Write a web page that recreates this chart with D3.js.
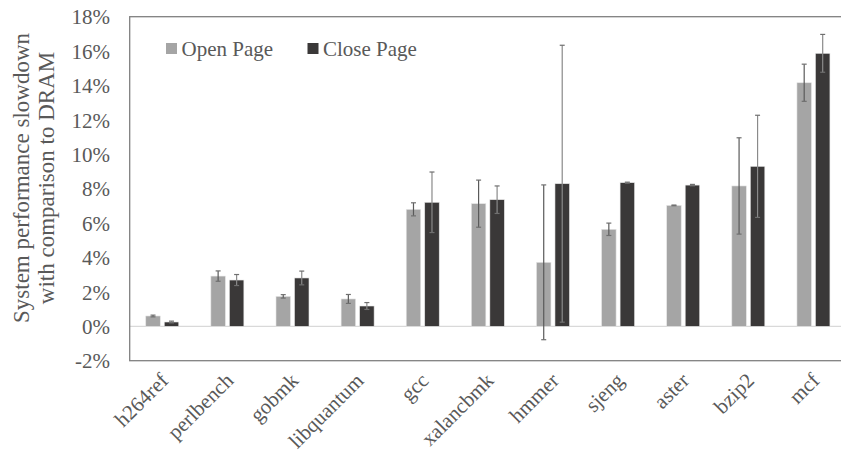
<!DOCTYPE html>
<html>
<head>
<meta charset="utf-8">
<script src="https://cdn.jsdelivr.net/npm/d3@7"></script>
<style>
  html, body { margin: 0; padding: 0; background: #fff; }
  svg { display: block; }
</style>
</head>
<body>
<div id="chart"></div>
<script>
// Benchmarks on the x axis
const categories = ["h264ref", "perlbench", "gobmk", "libquantum", "gcc", "xalancbmk",
                    "hmmer", "sjeng", "aster", "bzip2", "mcf"];
const seriesNames = ["Open Page", "Close Page"];
// Slowdown (%) relative to DRAM
const openPage  = [0.60, 2.92, 1.74, 1.59, 6.80, 7.13, 3.72, 5.64, 7.03, 8.16, 14.16];
const closePage = [0.25, 2.69, 2.81, 1.18, 7.21, 7.36, 8.29, 8.35, 8.21, 9.30, 15.87];
// Error bar half-widths (%)
const openErr   = [0.05, 0.30, 0.10, 0.26, 0.38, 1.37, 4.50, 0.36, 0.02, 2.80, 1.08];
const closeErr  = [0.05, 0.32, 0.40, 0.20, 1.76, 0.80, 8.05, 0.03, 0.04, 2.97, 1.10];
const yTicks = [-2, 0, 2, 4, 6, 8, 10, 12, 14, 16, 18];

const FONT = '"Times New Roman", "Liberation Serif", "DejaVu Serif", serif';
const TEXT = "#595959";
const colors = ["#a5a5a5", "#3a3838"];
const W = 841, H = 464;
const plot = { left: 129.7, right: 846, top: 16.7, bottom: 360.7 };

const svg = d3.select("#chart").append("svg")
  .attr("width", W).attr("height", H)
  .attr("font-family", FONT);

const y = d3.scaleLinear().domain([-2, 18]).range([plot.bottom, plot.top]);
const x0 = d3.scaleBand().domain(categories).range([plot.left, plot.right]).padding(0);
const half = 16.5;
const x1 = d3.scaleBand().domain(seriesNames)
  .range([x0.bandwidth() / 2 - half, x0.bandwidth() / 2 + half])
  .paddingInner(0.216).paddingOuter(0);

// Zero line
svg.append("line")
  .attr("x1", plot.left).attr("x2", plot.right)
  .attr("y1", y(0)).attr("y2", y(0))
  .attr("stroke", "#d9d9d9").attr("stroke-width", 1.3);

// Y axis labels
const yAxis = d3.axisLeft(y).tickValues(yTicks).tickSize(0).tickPadding(0)
  .tickFormat(d => d + "%");
const gy = svg.append("g").attr("transform", `translate(110,0)`).call(yAxis)
  .attr("font-family", FONT).attr("font-size", 21);
gy.select(".domain").remove();
gy.selectAll("text").attr("fill", TEXT).attr("dy", "0.34em");

// Axis title
const title = svg.append("text")
  .attr("transform", `translate(30,178) rotate(-90)`)
  .attr("text-anchor", "middle")
  .attr("fill", TEXT)
  .attr("font-size", 23);
title.append("tspan").attr("x", 0).attr("dy", "-0.05em").text("System performance slowdown");
title.append("tspan").attr("x", 0).attr("dy", "1.08em").text("with comparison to DRAM");

// Bars
const rows = categories.map((c, i) => ({
  cat: c,
  vals: [
    { s: seriesNames[0], v: openPage[i], e: openErr[i], k: 0 },
    { s: seriesNames[1], v: closePage[i], e: closeErr[i], k: 1 }
  ]
}));

const groups = svg.append("g").selectAll("g").data(rows).join("g")
  .attr("transform", d => `translate(${x0(d.cat)},0)`);

groups.selectAll("rect").data(d => d.vals).join("rect")
  .attr("x", d => x1(d.s))
  .attr("width", x1.bandwidth())
  .attr("y", d => y(Math.max(0, d.v)))
  .attr("height", d => Math.abs(y(d.v) - y(0)))
  .attr("fill", d => colors[d.k])
  .attr("stroke", "#e6e6e6").attr("stroke-width", 0.6);

// Error bars
const eb = groups.selectAll("g.err").data(d => d.vals).join("g").attr("class", "err")
  .attr("stroke", "#6f6f6f").attr("stroke-width", 1.2);
const cx = d => x1(d.s) + x1.bandwidth() / 2;
eb.append("line")
  .attr("x1", cx).attr("x2", cx)
  .attr("y1", d => y(d.v + d.e)).attr("y2", d => y(d.v - d.e))
  .attr("stroke", d => d.k === 1 ? "#8a8a8a" : "#5a5a5a");
eb.append("line")
  .attr("x1", d => cx(d) - 2.5).attr("x2", d => cx(d) + 2.5)
  .attr("y1", d => y(d.v + d.e)).attr("y2", d => y(d.v + d.e));
eb.append("line")
  .attr("x1", d => cx(d) - 2.5).attr("x2", d => cx(d) + 2.5)
  .attr("y1", d => y(d.v - d.e)).attr("y2", d => y(d.v - d.e));

// Plot frame
svg.append("rect")
  .attr("x", plot.left).attr("y", plot.top)
  .attr("width", plot.right - plot.left).attr("height", plot.bottom - plot.top)
  .attr("fill", "none").attr("stroke", "#808080").attr("stroke-width", 1.3);

// Category labels, rotated
svg.append("g").selectAll("text").data(categories).join("text")
  .attr("transform", d => `translate(${x0(d) + x0.bandwidth() / 2 + 2},${plot.bottom + 16}) rotate(-45)`)
  .attr("text-anchor", "end")
  .attr("dy", "0.35em")
  .attr("fill", TEXT)
  .attr("font-size", 21)
  .text(d => d);

// Legend
const legendX = [166, 307.5];
const lg = svg.append("g").selectAll("g").data(seriesNames).join("g")
  .attr("transform", (d, i) => `translate(${legendX[i]},43)`);
lg.append("rect").attr("width", 11).attr("height", 11)
  .attr("fill", (d, i) => colors[i]);
lg.append("text").attr("x", 15.5).attr("y", 12.5)
  .attr("fill", TEXT)
  .attr("font-size", 21).text(d => d);
</script>
</body>
</html>
